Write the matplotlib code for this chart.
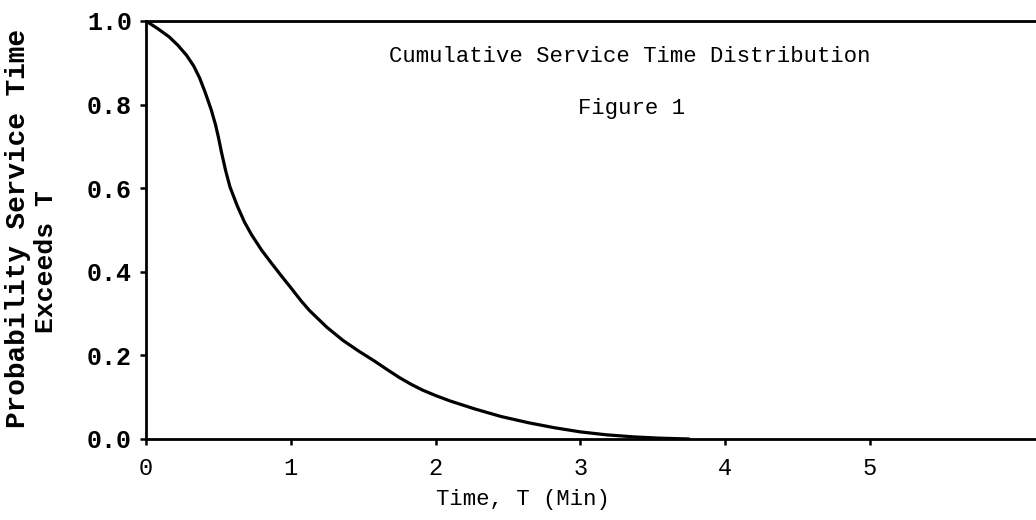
import matplotlib
matplotlib.use("Agg")
import matplotlib.pyplot as plt

# values
t_min = [0.0, 0.08, 0.16, 0.22, 0.28, 0.33, 0.37, 0.41, 0.45, 0.48, 0.50,
         0.52, 0.55, 0.58, 0.63, 0.68, 0.73, 0.80, 0.87, 0.94,
         1.0, 1.07, 1.13, 1.25, 1.36, 1.47, 1.58, 1.67, 1.75, 1.83, 1.91, 2.0,
         2.1, 2.27, 2.45, 2.64, 2.82, 3.0, 3.18, 3.37, 3.55, 3.75]
p_exceed = [1.0, 0.982, 0.962, 0.942, 0.918, 0.892, 0.864, 0.828, 0.788, 0.752, 0.722,
            0.688, 0.642, 0.603, 0.558, 0.519, 0.488, 0.451, 0.419, 0.388,
            0.362, 0.331, 0.307, 0.267, 0.236, 0.21, 0.186, 0.165, 0.147, 0.131, 0.117, 0.104,
            0.091, 0.072, 0.054, 0.039, 0.027, 0.017, 0.010, 0.005, 0.002, 0.0]

x_ticks = [0, 1, 2, 3, 4, 5]
x_labels = ["0", "1", "2", "3", "4", "5"]
y_ticks = [0.0, 0.2, 0.4, 0.6, 0.8, 1.0]
y_labels = ["0.0", "0.2", "0.4", "0.6", "0.8", "1.0"]

mono = "Liberation Mono"

fig = plt.figure(figsize=(10.36, 5.2), dpi=100)
ax = fig.add_axes([146 / 1036, 1 - 439 / 520, 1 - 146 / 1036, 418 / 520])

ax.plot(t_min, p_exceed, color="black", linewidth=2.3,
        solid_capstyle="round", solid_joinstyle="round")

ax.set_xlim(0, 890 / 144.8)
ax.set_ylim(0, 1)
ax.spines["right"].set_visible(False)
for s in ["left", "bottom", "top"]:
    ax.spines[s].set_linewidth(2.0)

ax.set_xticks(x_ticks)
ax.set_xticklabels(x_labels, fontfamily=mono, fontsize=17)
ax.set_yticks(y_ticks)
ax.set_yticklabels(y_labels, fontfamily=mono, fontsize=18, fontweight="bold")
ax.tick_params(axis="x", length=4, width=1.8, pad=9)
ax.tick_params(axis="y", length=4, width=1.8, pad=6)

ax.text(3.34, 0.914, "Cumulative Service Time Distribution", ha="center", va="center",
        fontfamily=mono, fontsize=16)
ax.text(3.35, 0.79, "Figure 1", ha="center", va="center", fontfamily=mono, fontsize=16)

fig.text(18 / 1036, 1 - 228 / 520, "Probability Service Time", rotation=90,
         ha="center", va="center", fontfamily=mono, fontsize=20, fontweight="bold")
fig.text(46 / 1036, 1 - 262 / 520, "Exceeds T", rotation=90,
         ha="center", va="center", fontfamily=mono, fontsize=19, fontweight="bold")
fig.text(523 / 1036, 1 - 500 / 520, "Time, T (Min)", ha="center", va="center",
         fontfamily=mono, fontsize=16)

fig.savefig("out.png", dpi=100)
